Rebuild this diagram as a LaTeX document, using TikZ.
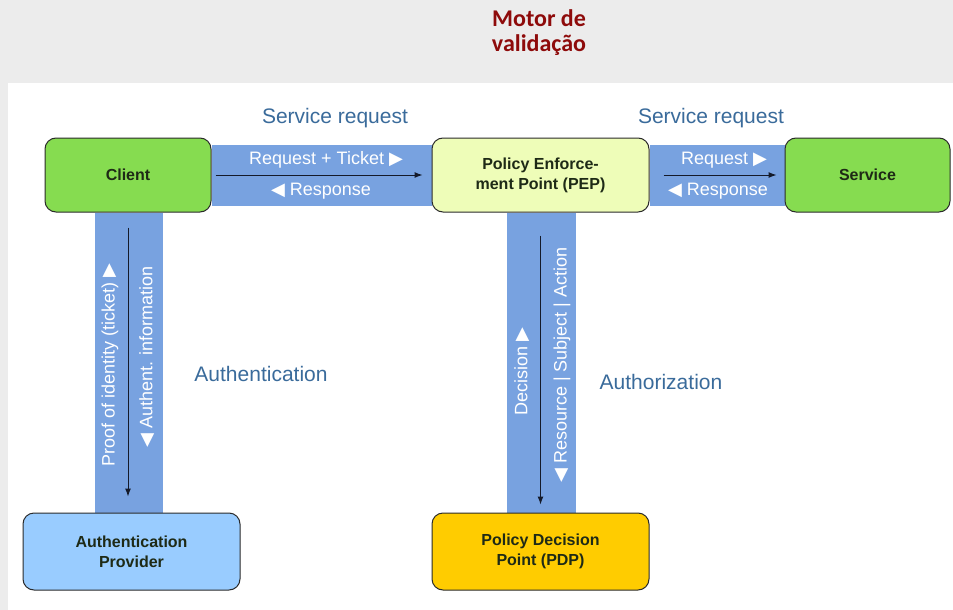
\documentclass[tikz,border=0pt]{standalone}
\usepackage{fontspec}
\setmainfont{Liberation Sans}
\newfontfamily\titlefont{Carlito}
\newfontfamily\symfont{DejaVu Sans}
\usetikzlibrary{arrows.meta,backgrounds,calc}

\definecolor{boxgreen}{HTML}{86DC50}
\definecolor{pepyellow}{HTML}{EEFDB8}
\definecolor{provblue}{HTML}{99CCFF}
\definecolor{pdpgold}{HTML}{FFCC00}
\definecolor{bandblue}{HTML}{78A2E0}
\definecolor{labelblue}{HTML}{3A6B9B}
\definecolor{titlered}{HTML}{8E0B0B}
\definecolor{edgedark}{HTML}{2B2B2B}
\definecolor{arrowdark}{HTML}{141A2A}
\definecolor{boxtext}{HTML}{1E2A16}
\definecolor{pagegray}{HTML}{ECECEC}

\newcommand{\triR}{{\symfont ▶}}
\newcommand{\triL}{{\symfont ◀}}

\begin{document}
\begin{tikzpicture}[x=1pt,y=-1pt,
  box/.style={shape=rectangle,draw=edgedark,line width=1pt,rounded corners=11pt,align=center,
    font=\fontsize{16}{20}\selectfont\bfseries,text=boxtext,minimum height=74pt},
  band/.style={fill=bandblue},
  flow/.style={-{Latex[length=8pt,width=6pt]},draw=arrowdark,line width=1pt},
  bandtext/.style={text=white,font=\fontsize{18}{20}\selectfont},
  caption/.style={text=labelblue,font=\fontsize{21}{24}\selectfont}]
\useasboundingbox (0,0) rectangle (953,610);

% boxes
\node[box,fill=boxgreen,minimum width=166pt] (client) at (128,175) {Client};
\node[box,fill=pepyellow,minimum width=217pt] (pep) at (540.5,175) {Policy Enforce-\\ment Point (PEP)};
\node[box,fill=boxgreen,minimum width=165pt] (service) at (867.5,175) {Service};
\node[box,fill=provblue,minimum width=217pt,minimum height=77pt] (provider) at (131.5,551.5) {Authentication\\Provider};
\node[box,fill=pdpgold,minimum width=217pt,minimum height=77pt] (pdp) at (540.5,551.5) {Policy Decision\\Point (PDP)};

% page and bands
\begin{scope}[on background layer]
\fill[pagegray] (0,0) rectangle (953,610);
\fill[white] (8,83) rectangle (953,610);
\fill[band] ([yshift=-7pt]client.north east) rectangle ([yshift=7pt]pep.south west);
\fill[band] ([yshift=-7pt]pep.north east) rectangle ([yshift=7pt]service.south west);
\fill[band] ([xshift=-33pt]client.south) rectangle ($(client.south |- provider.north)+(35,0)$);
\fill[band] ([xshift=-33.5pt]pep.south) rectangle ($(pep.south |- pdp.north)+(35.5,0)$);
\end{scope}

% arrows
\draw[flow,shorten <=4pt,shorten >=9pt] (client.east) -- (pep.west);
\draw[flow,shorten <=14pt,shorten >=8pt] (pep.east) -- (service.west);
\draw[flow,shorten <=15pt,shorten >=16pt] (client.south) -- (client.south |- provider.north);
\draw[flow,shorten <=23pt,shorten >=8pt] (pep.south) -- (pdp.north);

% band texts
\node[bandtext] (req1) at (326,160) {Request + Ticket \triR};
\node[bandtext] (resp1) at (321,191) {\triL\ Response};
\node[bandtext] (req2) at (724,160) {Request \triR};
\node[bandtext] (resp2) at (718,191) {\triL\ Response};
\node[bandtext,rotate=90] (proof) at (110,365) {Proof of identity (ticket) \triR};
\node[bandtext,rotate=90] (authinfo) at (147,357) {\triL\ Authent. information};
\node[bandtext,rotate=90] (decision) at (522,372) {Decision \triR};
\node[bandtext,rotate=90] (rsa) at (562,365) {\triL\ Resource | Subject | Action};

% captions
\node[caption] (svcreq1) at (335,118) {Service request};
\node[caption] (svcreq2) at (711,118) {Service request};
\node[caption] (authn) at (261,374) {Authentication};
\node[caption] (authz) at (661,382) {Authorization};

% title
\node[text=titlered,align=center,font=\titlefont\fontsize{24}{25}\selectfont\bfseries] (title) at (539,33) {Motor de\\validação};
\end{tikzpicture}
\end{document}
